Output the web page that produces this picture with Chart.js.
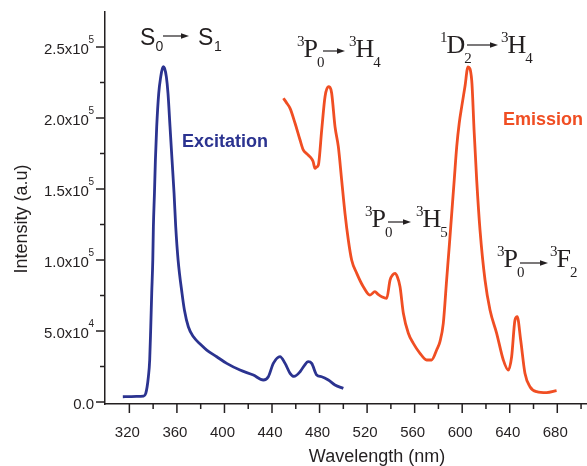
<!DOCTYPE html>
<html><head><meta charset="utf-8">
<script src="https://cdn.jsdelivr.net/npm/chart.js@4.4.0/dist/chart.umd.min.js"></script>
<style>html,body{margin:0;padding:0;background:#fff}</style>
</head><body>
<canvas id="c" width="587" height="466"></canvas>
<script>
// ---- data ----
const exWl  = [314.5, 320, 326, 331.8, 333.8, 336.0, 337.1, 338.0, 338.8, 339.7, 340.2, 341.1, 341.9, 343.0, 344.7, 346.4, 347.8, 348.6, 349.6, 351.1, 352.5, 354.2, 355.9, 357.6, 359.0, 361.0, 364.3, 366.3, 369.6, 373.9, 380, 385.1, 393.5, 401.9, 413.1, 424.3, 432.7, 436.9, 441.1, 446.7, 451, 455.2, 458.5, 463.6, 467, 470.5, 473.4, 477.6, 481.8, 487.4, 493, 500];
const exVal = [3700, 3800, 3900, 4200, 6100, 17800, 29600, 53000, 76500, 100000, 123400, 147000, 170400, 193900, 217400, 229100, 235000, 236100, 235000, 229100, 217400, 193900, 170400, 147000, 123400, 100000, 76500, 64800, 53000, 45900, 40500, 36600, 31900, 27200, 22500, 19000, 15500, 17800, 27200, 32000, 27200, 20200, 18000, 21300, 25500, 28400, 27200, 19000, 17800, 15500, 12000, 9600];

const emWl  = [449.6, 452, 455.2, 459.4, 463.6, 466.3, 469, 472, 474.5, 476.2, 477.5, 479, 481.8, 484.6, 487.4, 488.8, 490.2, 493, 495.8, 498.6, 501.4, 504.2, 507, 511.3, 516.8, 522.4, 526.6, 529, 532.3, 536.5, 539.3, 541.5, 543.5, 545.5, 547.7, 550.5, 554.7, 558.9, 564.5, 570.1, 574.3, 578.5, 581.3, 584.1, 586.9, 589.1, 591.2, 593.3, 595.4, 597.5, 599.6, 602.3, 604.9, 608.0, 610.0, 612.2, 615.0, 619.2, 623.4, 629.0, 634.6, 638.8, 641.6, 644.4, 646.3, 649.2, 652.8, 657, 662.6, 671, 679.4];
const emVal = [213900, 211000, 206800, 196300, 184500, 177500, 175000, 172700, 169500, 164500, 165500, 166900, 191500, 215000, 222000, 221500, 217400, 193900, 179800, 156300, 132900, 114100, 100000, 90600, 81200, 75300, 77700, 76000, 74100, 73000, 85900, 89500, 90600, 88000, 81200, 62500, 48400, 41300, 34300, 29600, 29600, 36600, 42500, 55400, 85900, 109400, 132900, 156300, 179800, 196300, 208000, 222000, 236000, 226700, 191500, 156300, 121100, 85900, 64800, 48400, 29600, 22500, 31900, 57700, 60100, 43700, 20200, 10800, 7300, 6600, 8000];

const xMajorTicks = [320, 360, 400, 440, 480, 520, 560, 600, 640, 680];
const xMinorTicks = [340, 380, 420, 460, 500, 540, 580, 620, 660, 700];
const yMajorTicks = [0, 50000, 100000, 150000, 200000, 250000];
const yMinorTicks = [25000, 75000, 125000, 175000, 225000];
const yTickMantissa = ['0.0', '5.0x10', '1.0x10', '1.5x10', '2.0x10', '2.5x10'];
const yTickExponent = ['', '4', '5', '5', '5', '5'];

const BLUE = '#2b3390';
const ORANGE = '#f04e23';
const INK = '#231f20';
const SANS = '"Liberation Sans", Arial, sans-serif';
const SERIF = '"Liberation Serif", "Times New Roman", serif';

function arrow(ctx, x1, x2, y) {
  ctx.save();
  ctx.strokeStyle = INK; ctx.fillStyle = INK; ctx.lineWidth = 1.2;
  ctx.beginPath(); ctx.moveTo(x1, y); ctx.lineTo(x2 - 5, y); ctx.stroke();
  ctx.beginPath(); ctx.moveTo(x2, y); ctx.lineTo(x2 - 8, y - 2.8); ctx.lineTo(x2 - 8, y + 2.8); ctx.closePath(); ctx.fill();
  ctx.restore();
}

// term label: sup, main, sub
function term(ctx, x, capTop, sup, main, sub) {
  const mainFont = '26px ' + SERIF, small = '15px ' + SERIF;
  ctx.textAlign = 'left'; ctx.textBaseline = 'alphabetic'; ctx.fillStyle = INK;
  let cx = x;
  const base = capTop + 17;
  if (sup) { ctx.font = small; ctx.fillText(sup, cx, capTop + 6); cx += ctx.measureText(sup).width - 1; }
  ctx.font = mainFont; ctx.fillText(main, cx, base); cx += ctx.measureText(main).width - 1;
  if (sub) { ctx.font = small; ctx.fillText(sub, cx, base + 10); cx += ctx.measureText(sub).width; }
  return cx;
}

const deco = {
  id: 'deco',
  afterDraw(chart) {
    const { ctx, scales: { x, y }, chartArea: a } = chart;
    ctx.save();
    ctx.strokeStyle = INK; ctx.lineWidth = 1.5;
    const seg = (x1, y1, x2, y2) => { ctx.beginPath(); ctx.moveTo(x1, y1); ctx.lineTo(x2, y2); ctx.stroke(); };
    xMajorTicks.forEach(v => { const p = x.getPixelForValue(v); seg(p, a.bottom, p, a.bottom + 9); });
    xMinorTicks.forEach(v => { const p = x.getPixelForValue(v); seg(p, a.bottom, p, a.bottom + 5); });
    yMajorTicks.forEach(v => { const p = y.getPixelForValue(v); seg(a.left, p, a.left - 9, p); });
    yMinorTicks.forEach(v => { const p = y.getPixelForValue(v); seg(a.left, p, a.left - 5, p); });

    ctx.fillStyle = INK;
    ctx.font = '15px ' + SANS; ctx.textAlign = 'center'; ctx.textBaseline = 'alphabetic';
    xMajorTicks.forEach(v => ctx.fillText(String(v), x.getPixelForValue(v) - 2, 437));

    yMajorTicks.forEach((v, i) => {
      const p = y.getPixelForValue(v);
      let right = 94;
      ctx.textAlign = 'right';
      if (yTickExponent[i]) {
        ctx.font = '10px ' + SANS;
        ctx.fillText(yTickExponent[i], right, p - 4.5);
        right -= ctx.measureText(yTickExponent[i]).width - 0.5;
      }
      ctx.font = '15px ' + SANS;
      ctx.fillText(yTickMantissa[i], right, p + 6.5);
    });

    // axis titles
    ctx.font = '18px ' + SANS; ctx.textAlign = 'center';
    ctx.fillText('Wavelength (nm)', 377, 461.5);
    ctx.save(); ctx.translate(26.5, 219); ctx.rotate(-Math.PI / 2);
    ctx.fillText('Intensity (a.u)', 0, 0); ctx.restore();

    // series labels
    ctx.font = 'bold 18px ' + SANS; ctx.textAlign = 'left';
    ctx.fillStyle = BLUE; ctx.fillText('Excitation', 182, 146.5);
    ctx.fillStyle = ORANGE; ctx.fillText('Emission', 503, 125);

    // S0 -> S1
    ctx.fillStyle = INK; ctx.textAlign = 'left';
    ctx.font = '23px ' + SANS; ctx.fillText('S', 140, 45);
    ctx.font = '14px ' + SANS; ctx.fillText('0', 155.5, 50.5);
    arrow(ctx, 163, 189, 36);
    ctx.font = '23px ' + SANS; ctx.fillText('S', 198, 45);
    ctx.font = '14px ' + SANS; ctx.fillText('1', 214, 50.5);

    // transitions
    term(ctx, 297, 40, '3', 'P', '0'); arrow(ctx, 323, 345, 51); term(ctx, 349, 40, '3', 'H', '4');
    term(ctx, 440, 36, '1', 'D', '2'); arrow(ctx, 467, 498, 45); term(ctx, 501, 36, '3', 'H', '4');
    term(ctx, 365, 210, '3', 'P', '0'); arrow(ctx, 388, 411, 222); term(ctx, 416, 210, '3', 'H', '5');
    term(ctx, 497, 250, '3', 'P', '0'); arrow(ctx, 520, 548, 263); term(ctx, 550, 250, '3', 'F', '2');
    ctx.restore();
  }
};

new Chart(document.getElementById('c'), {
  type: 'line',
  data: {
    datasets: [
      { label: 'Excitation', data: exWl.map((w, i) => ({ x: w, y: exVal[i] })), borderColor: BLUE, borderWidth: 2.8, pointRadius: 0, cubicInterpolationMode: 'monotone', fill: false },
      { label: 'Emission', data: emWl.map((w, i) => ({ x: w, y: emVal[i] })), borderColor: ORANGE, borderWidth: 2.8, pointRadius: 0, cubicInterpolationMode: 'monotone', fill: false }
    ]
  },
  options: {
    responsive: false, animation: false, devicePixelRatio: 1,
    layout: { padding: { top: 12, left: 0, right: 0, bottom: 0 } },
    plugins: { legend: { display: false }, tooltip: { enabled: false } },
    scales: {
      x: {
        type: 'linear', min: 299.5, max: 705,
        grid: { display: false }, ticks: { display: false },
        border: { display: true, color: INK, width: 1.5 },
        afterFit: s => { s.height = 62; }
      },
      y: {
        min: -1400, max: 274650,
        grid: { display: false }, ticks: { display: false },
        border: { display: true, color: INK, width: 1.5 },
        afterFit: s => { s.width = 105; }
      }
    }
  },
  plugins: [deco]
});
</script>
</body></html>
